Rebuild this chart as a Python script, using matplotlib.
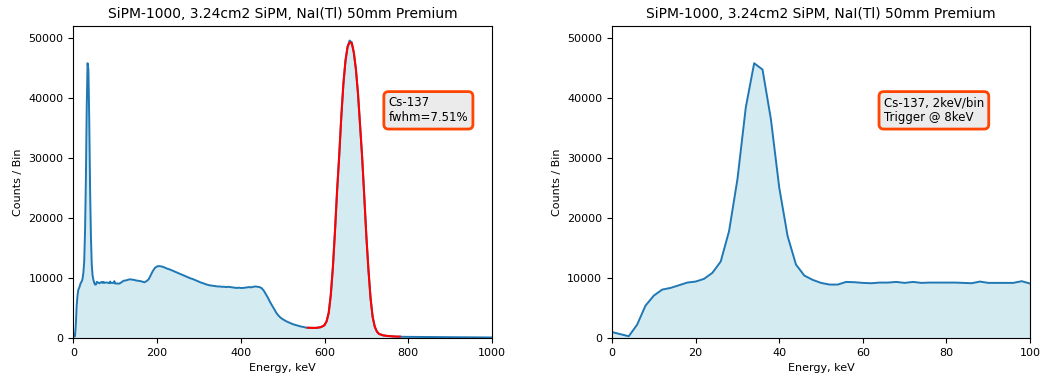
import matplotlib
matplotlib.use("Agg")
import matplotlib.pyplot as plt
import numpy as np

# ---- Data ----
title = "SiPM-1000, 3.24cm2 SiPM, NaI(Tl) 50mm Premium"

# Low-energy spectrum, 2 keV/bin (0..100 keV)
low_energy = [0, 2, 4, 6, 8, 10, 12, 14, 16, 18, 20, 22, 24, 26, 28, 30, 32, 34, 36, 38,
              40, 42, 44, 46, 48, 50, 52, 54, 56, 58, 60, 62, 64, 66, 68, 70, 72, 74, 76,
              78, 80, 82, 84, 86, 88, 90, 92, 94, 96, 98, 100]
low_counts = [1000, 650, 300, 2230, 5400, 7080, 8080, 8360, 8800, 9250, 9420, 9870, 10870,
              12760, 17840, 26480, 38460, 45820, 44760, 36510, 25080, 17000, 12260, 10420,
              9700, 9200, 8920, 8920, 9360, 9310, 9200, 9140, 9250, 9250, 9360, 9200, 9360,
              9200, 9250, 9250, 9250, 9250, 9200, 9140, 9420, 9200, 9200, 9200, 9200, 9480,
              9090]

# Full-range spectrum continuation (105..1000 keV)
high_energy = [105, 110, 115, 120, 125, 130, 135, 140, 145, 150, 155, 160, 165, 170, 175,
               180, 185, 190, 195, 200, 205, 210, 215, 220, 225, 230, 235, 240, 245, 250,
               255, 260, 265, 270, 275, 280, 285, 290, 295, 300, 305, 310, 315, 320, 325,
               330, 335, 340, 345, 350, 355, 360, 365, 370, 375, 380, 385, 390, 395, 400,
               405, 410, 415, 420, 425, 430, 435, 440, 445, 450, 455, 460, 465, 470, 475,
               480, 485, 490, 495, 500, 505, 510, 515, 520, 525, 530, 535, 540, 545, 550,
               555, 560, 570, 580, 590, 595, 600, 605, 610, 615, 620, 625, 630, 635, 640,
               645, 650, 655, 660, 665, 670, 675, 680, 685, 690, 695, 700, 705, 710, 715,
               720, 725, 730, 740, 750, 760, 770, 780, 800, 850, 900, 950, 1000]
high_counts = [9100, 9080, 9300, 9550, 9600, 9700, 9800, 9750, 9700, 9600, 9550, 9500, 9400,
               9300, 9500, 9800, 10500, 11200, 11700, 11950, 12000, 11950, 11850, 11700,
               11550, 11450, 11300, 11150, 11000, 10850, 10700, 10550, 10400, 10250, 10100,
               9950, 9850, 9700, 9550, 9400, 9250, 9150, 9000, 8900, 8800, 8750, 8700, 8650,
               8600, 8600, 8550, 8550, 8500, 8550, 8500, 8450, 8400, 8350, 8400, 8350, 8350,
               8400, 8450, 8500, 8450, 8550, 8600, 8550, 8500, 8300, 7900, 7300, 6700, 6000,
               5400, 4800, 4200, 3750, 3400, 3150, 2950, 2750, 2600, 2450, 2300, 2200, 2100,
               2000, 1900, 1850, 1750, 1720, 1700, 1700, 1800, 1950, 2150, 2800, 4200, 7200,
               11800, 17800, 24500, 30300, 36800, 42300, 46200, 48600, 49600, 49300, 47600,
               44800, 40700, 35400, 30000, 23600, 16900, 11300, 6600, 3500, 1900, 1100, 700,
               450, 350, 300, 250, 220, 200, 180, 150, 120, 100]

# Photopeak fit (red curve)
fit_energy = [560, 570, 580, 590, 595, 600, 605, 610, 615, 620, 625, 630, 635, 640, 645, 650,
              655, 660, 665, 670, 675, 680, 685, 690, 695, 700, 705, 710, 715, 720, 725, 730,
              740, 750, 760, 770, 780]
fit_counts = [1720, 1700, 1700, 1800, 1950, 2150, 2800, 4200, 7200, 11800, 17800, 24500,
              30300, 36800, 42300, 46200, 48500, 49300, 49200, 47600, 44800, 40700, 35400,
              30000, 23600, 16900, 11300, 6600, 3500, 1900, 1100, 700, 450, 350, 300, 250, 250]

left_note = "Cs-137\nfwhm=7.51%"
right_note = "Cs-137, 2keV/bin\nTrigger @ 8keV"

# ---- Plot ----
full_energy = [0] + low_energy[1:] + high_energy
full_counts = [0] + low_counts[1:] + high_counts

fig = plt.figure(figsize=(10.43, 3.79), dpi=100)
ax1 = fig.add_axes([0.0703, 0.108, 0.4014, 0.823])
ax2 = fig.add_axes([0.5868, 0.108, 0.4008, 0.823])

line_col = "#1f77b4"
bbox = dict(boxstyle="round,pad=0.4", facecolor="#ebebeb", edgecolor="#ff4500", linewidth=2)

ax1.plot(full_energy, full_counts, color=line_col, lw=1.4)
ax1.fill_between(full_energy, full_counts, color="lightblue", alpha=0.5, lw=0)
ax1.plot(fit_energy, fit_counts, color="red", lw=1.5)
ax1.set_xlim(0, 1000)
ax1.set_ylim(0, 52000)
ax1.set_xticks([0, 200, 400, 600, 800, 1000])
ax1.text(0.753, 0.775, left_note, transform=ax1.transAxes, fontsize=8.5, va="top", ha="left",
         bbox=bbox)

ax2.plot(low_energy, low_counts, color=line_col, lw=1.4)
ax2.fill_between(low_energy, low_counts, color="lightblue", alpha=0.5, lw=0)
ax2.set_xlim(0, 100)
ax2.set_ylim(0, 52000)
ax2.set_xticks([0, 20, 40, 60, 80, 100])
ax2.text(0.650, 0.775, right_note, transform=ax2.transAxes, fontsize=8.5, va="top", ha="left",
         bbox=bbox)

for ax in (ax1, ax2):
    ax.set_title(title, fontsize=10)
    ax.set_xlabel("Energy, keV", fontsize=8)
    ax.set_ylabel("Counts / Bin", fontsize=8)
    ax.set_yticks([0, 10000, 20000, 30000, 40000, 50000])
    ax.tick_params(labelsize=8)

fig.savefig("out.png", dpi=100)
